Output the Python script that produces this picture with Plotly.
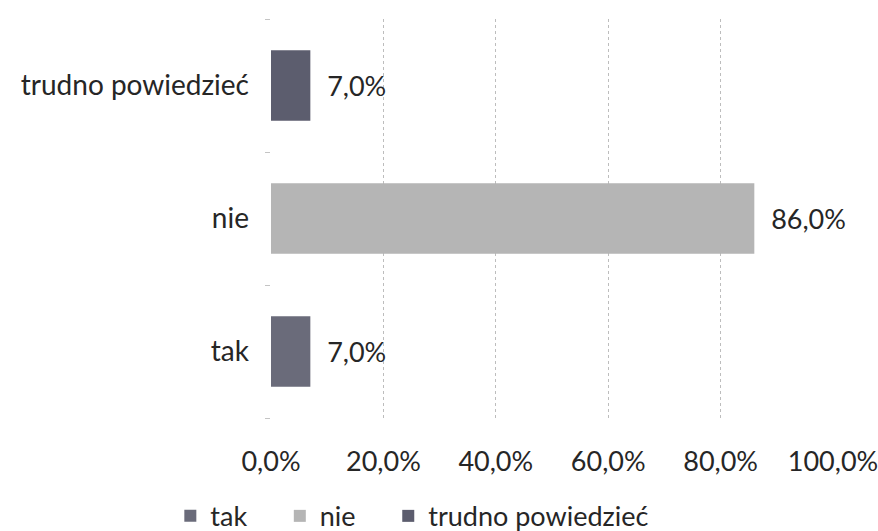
import plotly.graph_objects as go

categories = ["tak", "nie", "trudno powiedzieć"]
values = [0.07, 0.86, 0.07]
colors = ["#6a6b7a", "#b5b5b5", "#5c5d6e"]
x_ticks = [0, 0.2, 0.4, 0.6, 0.8, 1.0]

FONT = "Lato, 'Open Sans', sans-serif"
TXT = "#262626"
PAD = "\u00a0" * 4  # legend spacing

fig = go.Figure()
for i, (cat, val, col) in enumerate(zip(categories, values, colors)):
    fig.add_trace(go.Bar(
        y=[cat], x=[val], orientation="h",
        name=cat + (PAD if i < len(categories) - 1 else ""),
        marker=dict(color=col, line=dict(width=0)),
        width=0.53,
        text=[val], texttemplate="  %{x:.1%}", textposition="outside",
        textfont=dict(size=27, color=TXT, family=FONT),
        cliponaxis=False,
    ))

fig.update_layout(
    width=878, height=531,
    barmode="overlay",
    separators=", ",
    paper_bgcolor="white", plot_bgcolor="white",
    margin=dict(l=271, r=45, t=19, b=113, autoexpand=False),
    font=dict(family=FONT, size=27, color=TXT),
    legend=dict(orientation="h", xref="container", x=0.194, xanchor="left",
                y=-0.185, yanchor="top",
                font=dict(size=27, color=TXT), itemwidth=30,
                traceorder="normal"),
    showlegend=True,
)
fig.update_xaxes(
    range=[0, 1.0], tickvals=x_ticks, tickformat=".1%",
    showgrid=True, gridcolor="#bdbdbd", griddash="dot", gridwidth=1,
    zeroline=False, showline=False, ticks="", automargin=False,
    ticklabeloverflow="allow", ticklabelstandoff=25,
    tickfont=dict(size=27, color=TXT),
)
fig.update_yaxes(
    categoryorder="array", categoryarray=categories,
    showline=False,
    ticks="outside", ticklen=5, tickcolor="#c4c4c4",
    tickson="boundaries", automargin=False,
    tickfont=dict(size=28, color=TXT),
    ticklabelstandoff=21,
)

fig.write_html(
    "out.html",
    config={"displayModeBar": False},
    post_script="document.body.style.margin='0';document.body.style.overflow='hidden';",
)
